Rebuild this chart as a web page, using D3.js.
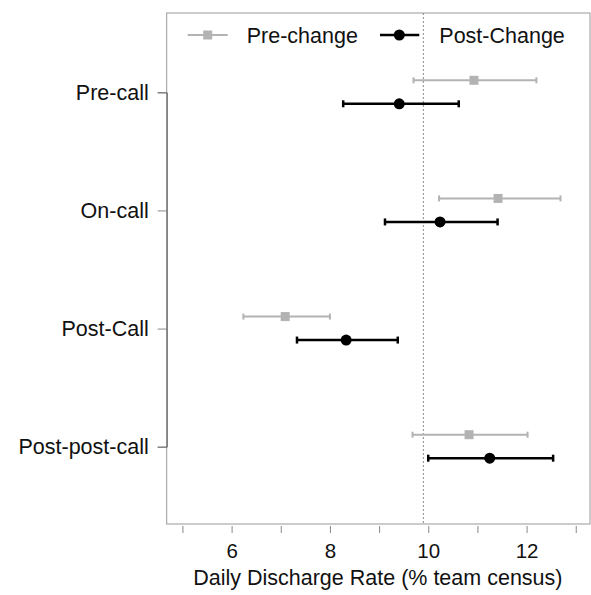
<!DOCTYPE html>
<html><head><meta charset="utf-8">
<script src="https://cdn.jsdelivr.net/npm/d3@7"></script>
<style>body{margin:0;background:#fff}svg{display:block}text{font-family:"Liberation Sans",Arial,sans-serif}</style>
</head><body><svg id="c" width="591" height="595"></svg>
<script>
const categories = ["Pre-call","On-call","Post-Call","Post-post-call"];
const seriesNames = ["Pre-change","Post-Change"];
const preMean = [10.93, 11.42, 7.09, 10.83];
const preLow  = [9.70, 10.22, 6.24, 9.68];
const preHigh = [12.20, 12.69, 8.00, 12.02];
const postMean = [9.41, 10.24, 8.33, 11.25];
const postLow  = [8.27, 9.12, 7.33, 10.00];
const postHigh = [10.62, 11.41, 9.38, 12.54];
const xTicks = [5,6,7,8,9,10,11,12,13];
const xLabeled = [6,8,10,12];
const refLine = 9.9;
const xTitle = "Daily Discharge Rate (% team census)";

const svg = d3.select("#c");
const L = 166.7, R = 590, T = 13, B = 524;
const x = d3.scaleLinear().domain([4.68, 13.29]).range([L, R]);
const y = d3.scalePoint().domain(categories).range([92.3, 446.7]);
const off = d3.scalePoint().domain(seriesNames).range([-12, 11.5]);

const styles = {
  "Pre-change": {color:"#b3b3b3", w:2, cap:6},
  "Post-Change": {color:"#000", w:2.5, cap:7}
};
const data = [];
categories.forEach((c,i)=>{
  data.push({cat:c, s:"Pre-change", m:preMean[i], lo:preLow[i], hi:preHigh[i]});
  data.push({cat:c, s:"Post-Change", m:postMean[i], lo:postLow[i], hi:postHigh[i]});
});

// box
svg.append("rect").attr("x",L).attr("y",T).attr("width",R-L).attr("height",B-T)
  .attr("fill","none").attr("stroke","#999").attr("stroke-width",1);

// ref line
svg.append("line").attr("x1",x(refLine)).attr("x2",x(refLine)).attr("y1",T).attr("y2",B)
  .attr("stroke","#888").attr("stroke-width",1).attr("stroke-dasharray","2,2");

// x axis
const xa = svg.append("g").attr("transform",`translate(0,${B+2})`)
  .call(d3.axisBottom(x).tickValues(xTicks).tickSize(7).tickPadding(10)
    .tickFormat(d=>xLabeled.includes(d)?d:""));
xa.select(".domain").remove();
xa.selectAll(".tick line").attr("stroke","#888");
xa.selectAll(".tick text").attr("font-size",20.5).attr("fill","#111");

svg.append("text").attr("x",(L+R)/2-0.5).attr("y",585).attr("text-anchor","middle")
  .attr("font-size",21.5).attr("fill","#111").text(xTitle);

// y axis
const ya = svg.append("g").attr("transform",`translate(${L},0)`)
  .call(d3.axisLeft(y).tickSize(9).tickPadding(9));
ya.select(".domain").attr("stroke","#555");
ya.selectAll(".tick line").attr("stroke","#888");
ya.selectAll(".tick text").attr("font-size",21.5).attr("fill","#111");

// error bars
const g = svg.append("g");
data.forEach(d=>{
  const st = styles[d.s];
  const yy = y(d.cat)+off(d.s);
  g.append("line").attr("x1",x(d.lo)).attr("x2",x(d.hi)).attr("y1",yy).attr("y2",yy)
    .attr("stroke",st.color).attr("stroke-width",st.w);
  [d.lo,d.hi].forEach(v=>{
    g.append("line").attr("x1",x(v)).attr("x2",x(v)).attr("y1",yy-st.cap/2).attr("y2",yy+st.cap/2)
      .attr("stroke",st.color).attr("stroke-width",st.w);
  });
  if(d.s==="Pre-change"){
    g.append("rect").attr("x",x(d.m)-4.5).attr("y",yy-4.5).attr("width",9).attr("height",9).attr("fill",st.color);
  } else {
    g.append("circle").attr("cx",x(d.m)).attr("cy",yy).attr("r",5.5).attr("fill","#000");
  }
});

// legend
const leg = svg.append("g");
const legY = 35;
leg.append("line").attr("x1",187.7).attr("x2",227.7).attr("y1",legY).attr("y2",legY)
  .attr("stroke","#b3b3b3").attr("stroke-width",2);
leg.append("rect").attr("x",207.7-4.5).attr("y",legY-4.5).attr("width",9).attr("height",9).attr("fill","#b3b3b3");
leg.append("text").attr("x",246.7).attr("y",legY+7.5).attr("font-size",21.5).attr("fill","#111").text(seriesNames[0]);
leg.append("line").attr("x1",380).attr("x2",419.3).attr("y1",legY).attr("y2",legY)
  .attr("stroke","#000").attr("stroke-width",2.5);
leg.append("circle").attr("cx",399.3).attr("cy",legY).attr("r",5.5).attr("fill","#000");
leg.append("text").attr("x",289.3+0).attr("y",legY+7.5).attr("font-size",21.5).attr("fill","#111")
  .attr("x",439.3).text(seriesNames[1]);
</script></body></html>
